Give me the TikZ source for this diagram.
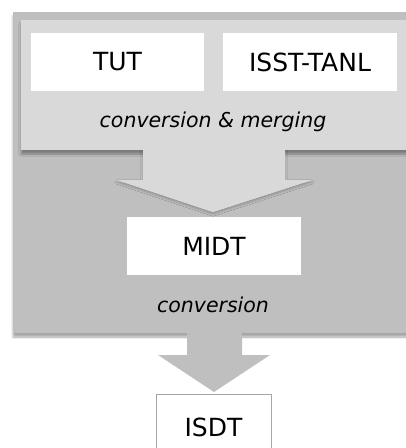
\documentclass[tikz,border=0pt]{standalone}
\usepackage{fontspec}
\setmainfont{DejaVu Sans}
\usetikzlibrary{shadows.blur}
\definecolor{darkbg}{HTML}{BFBFBF}
\definecolor{lightbg}{HTML}{D9D9D9}
\definecolor{boxline}{HTML}{A6A6A6}
\begin{document}
\begin{tikzpicture}[x=1pt,y=-1pt,
  panel/.style={blur shadow={shadow xshift=0pt,shadow yshift=-4pt,shadow blur steps=6,shadow opacity=35}},
  databox/.style={fill=white,draw=none,inner sep=0pt,font=\fontsize{25}{29}\selectfont},
  steplabel/.style={font=\fontsize{20.5}{24}\selectfont\itshape,inner sep=0pt}]
\useasboundingbox (0,0) rectangle (406,448);
% panels
\fill[darkbg,panel] (13,12) rectangle (420,333);
% big arrow 1 (shadow pass)
\fill[lightbg,blur shadow={shadow xshift=0pt,shadow yshift=-2pt,shadow blur steps=4,shadow opacity=25}]
  (143,140) -- (285,140) -- (285,180) -- (312,180) -- (213,212) -- (117,180) -- (143,180) -- cycle;
\fill[lightbg,panel] (21,20) rectangle (420,150);
% big arrow 1 (fill pass)
\fill[lightbg]
  (143,140) -- (285,140) -- (285,180) -- (312,180) -- (213,212) -- (117,180) -- (143,180) -- cycle;
% nodes
\node[databox,minimum width=173,minimum height=58] (tut) at (117.5,62) {TUT};
\node[databox,minimum width=174,minimum height=58] (isst) at (310,62) {ISST-TANL};
\node[steplabel] (merge) at (213,122) {conversion \& merging};
\node[databox,minimum width=174,minimum height=58] (midt) at (214,246) {MIDT};
\node[steplabel] (conv) at (213,305) {conversion};
% arrow 2
\fill[darkbg] (187,332) -- (242,332) -- (242,355) -- (270,355) -- (214,392) -- (158,355) -- (187,355) -- cycle;
\node[databox,draw=boxline,line width=0.8pt,minimum width=115,minimum height=66] (isdt) at (213.5,427) {ISDT};
\end{tikzpicture}
\end{document}
